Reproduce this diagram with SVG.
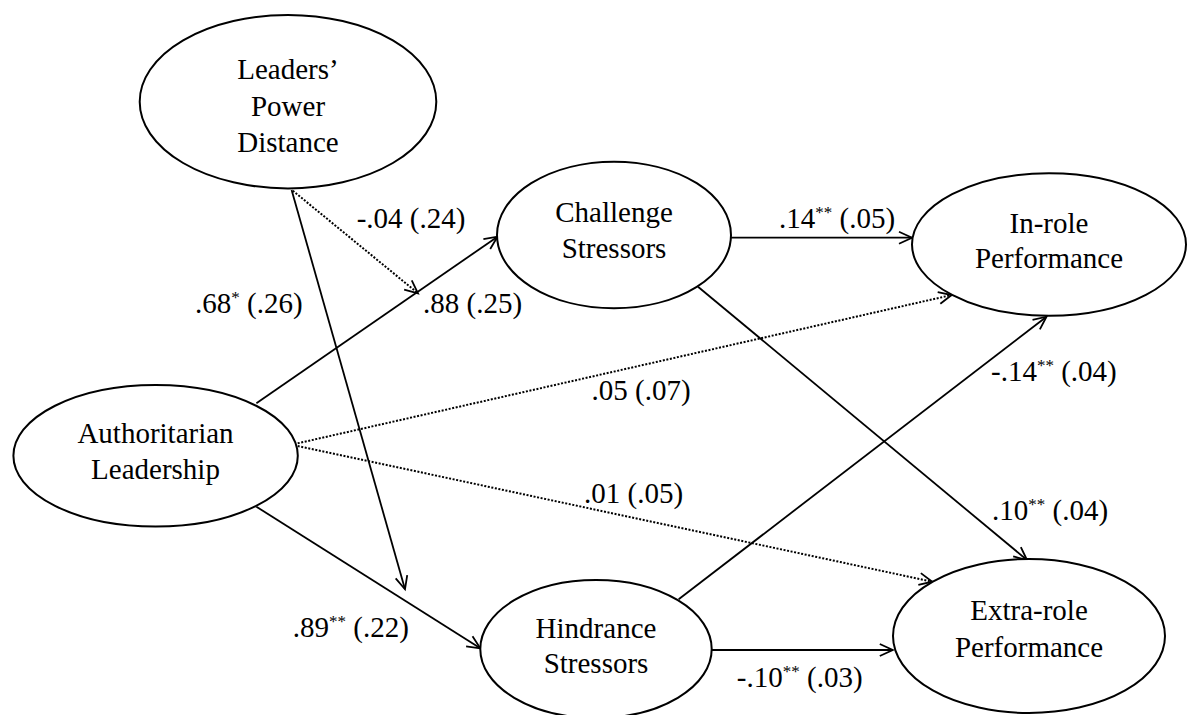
<svg xmlns="http://www.w3.org/2000/svg" width="1187" height="715" viewBox="0 0 1187 715" font-family="Liberation Serif, DejaVu Serif, serif" font-size="29">
<style>
.node ellipse{fill:#fff;stroke:#000;stroke-width:2}
.nt{text-anchor:middle}
.sup{font-size:17px}
.c line{stroke:#000;stroke-width:1.8;fill:none}
.c line.dot{stroke-width:2;stroke-dasharray:2 1.6}
</style>
<defs>
<marker id="arr" markerUnits="userSpaceOnUse" markerWidth="30" markerHeight="30" refX="15" refY="15" orient="auto" viewBox="0 0 30 30">
<path d="M2,9 L15,15 L2,21" fill="none" stroke="#000" stroke-width="1.8"/>
</marker>
</defs>
<rect width="1187" height="715" fill="#fff"/>
<g class="c" id="connectors">
<line x1="291.6" y1="190" x2="405" y2="589.3" marker-end="url(#arr)"/>
<line class="dot" x1="292.8" y1="190.7" x2="418" y2="293.3" marker-end="url(#arr)"/>
<line x1="256.4" y1="403.3" x2="497.5" y2="236.7" marker-end="url(#arr)"/>
<line x1="731" y1="237.7" x2="912" y2="237.7" marker-end="url(#arr)"/>
<line x1="698" y1="286.7" x2="1027" y2="560" marker-end="url(#arr)"/>
<line class="dot" x1="297.7" y1="443.3" x2="951.7" y2="295" marker-end="url(#arr)"/>
<line class="dot" x1="297.7" y1="446" x2="932.3" y2="581.7" marker-end="url(#arr)"/>
<line x1="256.4" y1="506.7" x2="480.3" y2="648.3" marker-end="url(#arr)"/>
<line x1="678.7" y1="599.3" x2="1046.5" y2="316.7" marker-end="url(#arr)"/>
<line x1="711.6" y1="650" x2="892.8" y2="650" marker-end="url(#arr)"/>
</g>
<g class="node" id="leaders-power-distance">
<ellipse cx="288" cy="101.7" rx="148.3" ry="86.7"/>
<text class="nt" x="288" y="79">Leaders’</text>
<text class="nt" x="288" y="115.5">Power</text>
<text class="nt" x="288" y="152">Distance</text>
</g>
<g class="node" id="challenge-stressors">
<ellipse cx="614" cy="235" rx="117" ry="73.3"/>
<text class="nt" x="614" y="221.7">Challenge</text>
<text class="nt" x="614" y="258.3">Stressors</text>
</g>
<g class="node" id="in-role-performance">
<ellipse cx="1049" cy="244.5" rx="137" ry="71.3"/>
<text class="nt" x="1049" y="232.7">In-role</text>
<text class="nt" x="1049" y="268.3">Performance</text>
</g>
<g class="node" id="authoritarian-leadership">
<ellipse cx="155.6" cy="455.8" rx="142.2" ry="70.8"/>
<text class="nt" x="155.5" y="442.7">Authoritarian</text>
<text class="nt" x="155.5" y="479.3">Leadership</text>
</g>
<g class="node" id="hindrance-stressors">
<ellipse cx="596" cy="649" rx="115.7" ry="69"/>
<text class="nt" x="596" y="638">Hindrance</text>
<text class="nt" x="596" y="673.3">Stressors</text>
</g>
<g class="node" id="extra-role-performance">
<ellipse cx="1029" cy="636" rx="136" ry="77"/>
<text class="nt" x="1029" y="620">Extra-role</text>
<text class="nt" x="1029" y="656.7">Performance</text>
</g>
<g id="labels">
<text x="356.7" y="227.7">-.04 (.24)</text>
<text x="195" y="313">.68<tspan class="sup" dy="-10">*</tspan><tspan dy="10"> (.26)</tspan></text>
<text x="423" y="313">.88 (.25)</text>
<text x="779" y="228.3">.14<tspan class="sup" dy="-10">**</tspan><tspan dy="10"> (.05)</tspan></text>
<text x="591.6" y="400">.05 (.07)</text>
<text x="991" y="380.7">-.14<tspan class="sup" dy="-10">**</tspan><tspan dy="10"> (.04)</tspan></text>
<text x="584" y="503.3">.01 (.05)</text>
<text x="992" y="520">.10<tspan class="sup" dy="-10">**</tspan><tspan dy="10"> (.04)</tspan></text>
<text x="292.8" y="636.7">.89<tspan class="sup" dy="-10">**</tspan><tspan dy="10"> (.22)</tspan></text>
<text x="736.8" y="686.7">-.10<tspan class="sup" dy="-10">**</tspan><tspan dy="10"> (.03)</tspan></text>
</g>
</svg>
